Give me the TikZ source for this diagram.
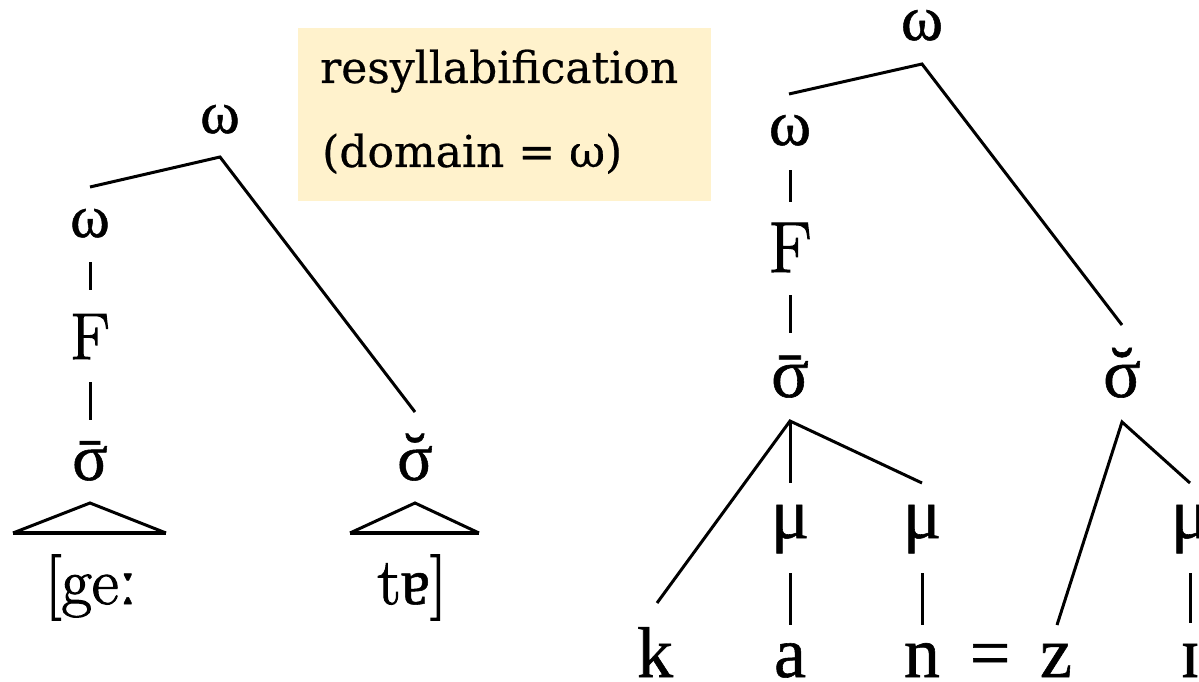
\documentclass[tikz,border=0pt]{standalone}
\usepackage{fontspec}
\newfontfamily\tms{Liberation Serif}[FakeBold=0.8]
\newfontfamily\lmb{Latin Modern Roman}[FakeBold=1.6]
\newfontfamily\dvs{DejaVu Serif}[FakeBold=0.5]
\definecolor{boxfill}{HTML}{FFF2CC}
\newcommand\sigmac{\ooalign{σ\cr\hfil\raisebox{-0.02em}{ˉ}\hfil\cr}}
\newcommand\sigbrv{\ooalign{σ\cr\hfil\raisebox{0.02em}{˘}\hfil\cr}}
\tikzset{
  ln/.style={line width=3pt, line join=miter},
  basel/.style={line width=4pt},
  lt/.style={inner sep=0pt, anchor=base, font=\lmb\fontsize{66}{70}\selectfont},
  rt/.style={inner sep=0pt, anchor=base, font=\lmb\fontsize{72}{76}\selectfont},
  boxtxt/.style={inner sep=0pt, anchor=base west, font=\dvs\fontsize{44}{50}\selectfont},
}
\begin{document}
\begin{tikzpicture}[x=1pt,y=-1pt]
\useasboundingbox (0,0) rectangle (1199,682);
\clip (0,0) rectangle (1199,682);
% label box
\fill[boxfill] (298,28) rectangle (711,201);
\node[boxtxt] (t1) at (320,83) {resyllabification};
\node[boxtxt] (t2) at (322,167) {(domain = ω)};

% ---------- left tree ----------
\node[lt, font=\tms\fontsize{60}{64}\selectfont] (Lw0) at (220,133) {ω};
\node[lt, font=\tms\fontsize{60}{64}\selectfont] (Lw1) at (90,237) {ω};
\node[lt] (LF) at (90,359) {F};
\node[lt, font=\tms\fontsize{66}{70}\selectfont] (Ls1) at (90,480) {\sigmac};
\node[lt, font=\tms\fontsize{66}{70}\selectfont] (Ls2) at (415,480) {\sigbrv};
\node[lt] (Lseg1) at (91,604) {[ge{\tms ː}};
\node[lt] (Lseg2) at (412,604) {t{\tms ɐ}]};

\coordinate (La) at (90,187);
\coordinate (Lb) at (220,157);
\coordinate (Lc) at (415,412);
\draw[ln] (La) -- (Lb) -- (Lc);
\coordinate (Ld) at (90,262); \coordinate (Le) at (90,290);
\draw[ln] (Ld) -- (Le);
\coordinate (Lf) at (90,382); \coordinate (Lg) at (90,420);
\draw[ln] (Lf) -- (Lg);
% triangles
\coordinate (T1a) at (90,503); \coordinate (T1b) at (13,533); \coordinate (T1c) at (166,533);
\draw[ln] (T1b) -- (T1a) -- (T1c);
\draw[basel] (T1b) -- (T1c);
\coordinate (T2a) at (415,503); \coordinate (T2b) at (350,533); \coordinate (T2c) at (479,533);
\draw[ln] (T2b) -- (T2a) -- (T2c);
\draw[basel] (T2b) -- (T2c);

% ---------- right tree ----------
\node[rt, font=\tms\fontsize{64}{68}\selectfont] (Rw0) at (922,40) {ω};
\node[rt, font=\tms\fontsize{64}{68}\selectfont] (Rw1) at (790,145) {ω};
\node[rt] (RF) at (790,272) {F};
\node[rt, font=\tms\fontsize{70}{74}\selectfont] (Rs1) at (790,397) {\sigmac};
\node[rt, font=\tms\fontsize{70}{74}\selectfont] (Rs2) at (1122,397) {\sigbrv};
\node[rt, font=\tms\fontsize{72}{76}\selectfont] (Rm1) at (790,538) {μ};
\node[rt, font=\tms\fontsize{72}{76}\selectfont] (Rm2) at (922,538) {μ};
\node[rt, font=\tms\fontsize{72}{76}\selectfont] (Rm3) at (1190,538) {μ};
\node[rt, font=\tms\fontsize{72}{76}\selectfont] (Rk) at (655,677) {k};
\node[rt, font=\tms\fontsize{72}{76}\selectfont] (Ra) at (790,677) {a};
\node[rt, font=\tms\fontsize{72}{76}\selectfont] (Rn) at (922,677) {n};
\node[rt, font=\tms\fontsize{72}{76}\selectfont] (Req) at (990,677) {=};
\node[rt, font=\tms\fontsize{72}{76}\selectfont] (Rz) at (1056,677) {z};
\node[rt, font=\tms\fontsize{72}{76}\selectfont] (Ri) at (1190,677) {ɪ};

\coordinate (Ra1) at (789,94);
\coordinate (Ra2) at (922,64);
\coordinate (Ra3) at (1122,325);
\draw[ln] (Ra1) -- (Ra2) -- (Ra3);
\coordinate (Rv1) at (790,170); \coordinate (Rv2) at (790,202);
\draw[ln] (Rv1) -- (Rv2);
\coordinate (Rv3) at (790,295); \coordinate (Rv4) at (790,333);
\draw[ln] (Rv3) -- (Rv4);
% sigma-bar branches
\coordinate (S1) at (790,421);
\coordinate (S1k) at (657,603);
\coordinate (S1m) at (790,483);
\coordinate (S1n) at (922,483);
\draw[ln] (S1k) -- (S1) -- (S1n);
\draw[ln] (S1) -- (S1m);
\coordinate (M1a) at (790,573); \coordinate (M1b) at (790,625);
\draw[ln] (M1a) -- (M1b);
\coordinate (M2a) at (922,573); \coordinate (M2b) at (922,625);
\draw[ln] (M2a) -- (M2b);
% sigma-breve branches
\coordinate (S2) at (1122,422);
\coordinate (S2z) at (1057,625);
\coordinate (S2m) at (1190,483);
\draw[ln] (S2z) -- (S2) -- (S2m);
\coordinate (M3a) at (1190,573); \coordinate (M3b) at (1190,623);
\draw[ln] (M3a) -- (M3b);
\end{tikzpicture}
\end{document}
